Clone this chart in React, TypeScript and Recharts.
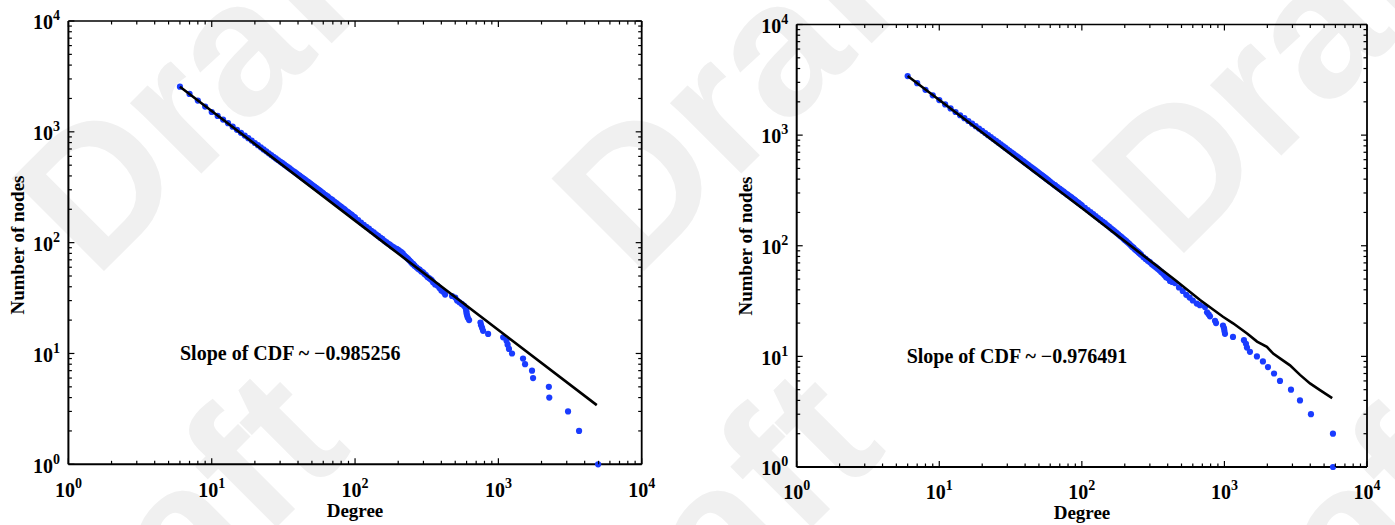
import React from 'react';
import { ScatterChart, Scatter, XAxis, YAxis, ReferenceLine } from 'recharts';

// ---------- data (left panel) ----------
const leftDegree = [6,7,8,9,10,11,12,13,14,15,16,17,18,19,20,21,22,23,24,25,26,27,28,29,30,32,34,36,38,40,42,44,46,48,50,52,54,56,58,60,65,70,75,80,85,90,95,100,110,120,130,140,150,160,170,180,190,200,210,220,230,240,250,260,275,290,305,320,335,350,362,375,388,400,412,425,475,500,515,535,555,575,590,595,598,600,605,612,625,750,757,770,782,848,1080,1140,1160,1186,1245,1486,1535,1717,1746,2250,2265,3063,3656,4965];
const leftNodes = [2553,2200,1915,1690,1510,1392,1290,1196,1112,1042,980,926,877,833,793,757,724,694,667,641,617,596,576,557,540,508,480,455,432,412,393,376,360,346,333,320,309,298,288,279,258,240,224,210,198,187,177,168,152,139,128,119,111,104,98,93,89,86,82,77,73,69,65,62,58,55,52,49,47,44,42,41,39,37,36,34,33,32,30,29,28,27,26,25,24,23,22,21,20,19,18,17,16,15,14,13,12,11,10,9,8,7,6,5,4,3,2,1];
const leftDegreeDense = [31,33,35,37,39,41,43,45,47,49,51,53,55,57,59,62,64,67,69,72,74,77,79,82,84,87,89,92,94,97,99,105,115,125,135,145,155,165,175,185,195,205,215,225,235,245,255,268,282,298,312,328,342];
const leftNodesDense = [524,494,467,443,422,402,384,368,353,339,326,314,303,293,283,270,263,250,244,233,227,218,213,205,201,193,189,183,179,173,170,160,145,134,124,115,108,101,96,91,88,84,80,75,71,67,64,60,57,54,51,48,46];
const leftFitDegree = [6, 100, 4860];
const leftFitNodes = [2553, 158, 3.42];

// ---------- data (right panel) ----------
const rightDegree = [6,7,8,9,10,11,12,13,14,15,16,17,18,19,20,21,22,23,24,25,26,27,28,29,30,32,34,36,38,40,42,44,46,48,50,52,54,56,58,60,65,70,75,80,85,90,95,100,110,120,130,140,150,160,170,180,190,200,210,220,230,240,250,260,280,300,320,340,360,380,400,415,430,450,480,510,540,570,600,640,673,731,755,775,792,859,873,977,993,1000,1009,1148,1371,1416,1439,1510,1690,1862,2020,2228,2453,2930,3388,4045,5770,5775];
const rightNodes = [3420,2950,2565,2290,2075,1895,1745,1618,1512,1422,1342,1270,1205,1145,1093,1044,1000,960,922,888,855,825,796,770,745,700,660,625,593,564,538,514,492,472,454,437,421,406,392,379,351,327,306,287,271,256,243,231,210,193,178,165,154,144,135,127,120,113,107,101,96,91,87,83,76,71,66,62,58,54,51,48,47,46,42,39,36,34,32,30,29,28,25,24,23,21,20,19,18,17,16,15,14,13,12,11,10,9,8,7,6,5,4,3,2,1];
const rightDegreeDense = [31,33,35,37,39,41,43,45,47,49,51,53,55,57,59,62,64,67,69,72,74,77,79,82,84,87,89,92,94,97,99,105,115,125,135,145,155,165,175,185,195,205,215,225,235,245,255,270,290,310,330,350,370,390];
const rightNodesDense = [722,680,642,609,578,551,526,503,482,463,445,429,413,399,385,367,356,340,331,318,310,298,291,281,275,265,260,251,246,238,233,220,201,185,171,160,149,139,131,123,116,110,104,98,93,89,85,79,73,68,64,60,56,52];
const rightFitDegree = [6, 100, 451, 675, 977, 1150, 1442, 1694, 1985, 2197, 2453, 2884, 3390, 3983, 4680, 5700];
const rightFitNodes = [3420, 219, 49, 32.3, 22.8, 19.9, 16.1, 13.6, 12.2, 10.6, 9.6, 8.3, 6.8, 5.7, 4.96, 4.2];

// ---------- axis ticks ----------
const logTicks = [1,2,3,4,5,6,7,8,9,10,20,30,40,50,60,70,80,90,100,200,300,400,500,600,700,800,900,1000,2000,3000,4000,5000,6000,7000,8000,9000,10000];
const majorTicks = [1, 10, 100, 1000, 10000];
const majorExponents = ['0', '1', '2', '3', '4'];

const xLabel = 'Degree';
const yLabel = 'Number of nodes';
const leftNote = 'Slope of CDF ~ \u22120.985256';
const rightNote = 'Slope of CDF ~ \u22120.976491';

const SERIF = '"Liberation Serif", "Times New Roman", Times, serif';
const BLUE = '#1a3cff';

const toPts = (xs: number[], ys: number[]) => xs.map((d, i) => ({ d, n: ys[i] }));

function XTick(props: any) {
  const { x, y, payload, plotH } = props;
  const v = payload.value;
  const mi = majorTicks.indexOf(v);
  const len = mi >= 0 ? 6 : 3.5;
  return (
    <g>
      <line x1={x} x2={x} y1={y} y2={y - len} stroke="#000" strokeWidth={1.2} />
      <line x1={x} x2={x} y1={y - plotH} y2={y - plotH + len} stroke="#000" strokeWidth={1.2} />
      {mi >= 0 && (
        <text x={x} y={y + 32.4} textAnchor="middle" fontFamily={SERIF} fontWeight="bold" fontSize={20} fill="#000">
          10<tspan dy={-9} fontSize={14}>{majorExponents[mi]}</tspan>
        </text>
      )}
    </g>
  );
}

function YTick(props: any) {
  const { x, y, payload, plotW } = props;
  const v = payload.value;
  const mi = majorTicks.indexOf(v);
  const len = mi >= 0 ? 6 : 3.5;
  return (
    <g>
      <line x1={x} x2={x + len} y1={y} y2={y} stroke="#000" strokeWidth={1.2} />
      <line x1={x + plotW} x2={x + plotW - len} y1={y} y2={y} stroke="#000" strokeWidth={1.2} />
      {mi >= 0 && (
        <text x={x - 8.4} y={y + 8.3} textAnchor="end" fontFamily={SERIF} fontWeight="bold" fontSize={20} fill="#000">
          10<tspan dy={-9} fontSize={14}>{majorExponents[mi]}</tspan>
        </text>
      )}
    </g>
  );
}

const Dot = (p: any) => <circle cx={p.cx} cy={p.cy} r={3.1} fill={BLUE} />;
const NoDot = () => <g />;

const XH = 40;
const YW = 50;

function Panel(props: { w: number; h: number; plot: { left: number; top: number; right: number; bottom: number }; points: any[]; fit: any[] }) {
  const { w, h, plot, points, fit } = props;
  const margin = { top: plot.top, left: plot.left - YW, right: plot.right, bottom: plot.bottom - XH };
  const plotW = w - plot.left - plot.right;
  const plotH = h - plot.top - plot.bottom;
  return (
    <ScatterChart width={w} height={h} margin={margin}>
      <XAxis
        type="number"
        dataKey="d"
        scale="log"
        domain={[1, 10000]}
        ticks={logTicks}
        interval={0}
        height={XH}
        tickSize={0}
        tickMargin={0}
        tickLine={false}
        axisLine={{ stroke: '#000', strokeWidth: 2 }}
        tick={(p: any) => <XTick {...p} plotH={plotH} />}
      />
      <YAxis
        type="number"
        dataKey="n"
        scale="log"
        domain={[1, 10000]}
        ticks={logTicks}
        interval={0}
        width={YW}
        tickSize={0}
        tickMargin={0}
        tickLine={false}
        axisLine={{ stroke: '#000', strokeWidth: 2 }}
        tick={(p: any) => <YTick {...p} plotW={plotW} />}
      />
      <ReferenceLine y={10000} stroke="#000" strokeWidth={1.5} />
      <ReferenceLine x={10000} stroke="#000" strokeWidth={1.8} />
      <Scatter data={points} shape={Dot} isAnimationActive={false} />
      <Scatter data={fit} shape={NoDot} line={{ stroke: '#000', strokeWidth: 2.6 }} isAnimationActive={false} />
    </ScatterChart>
  );
}

const WM = { fontSize: 190, fill: '#f0f0f0', angle: -45 };
const wmStarts = [
  [95, 280], [635, 280], [1175, 262],
  [40, 764], [575, 764], [1206, 764],
];

export default function App() {
  const leftPts = toPts(leftDegree, leftNodes).concat(toPts(leftDegreeDense, leftNodesDense));
  const leftFit = toPts(leftFitDegree, leftFitNodes);
  const rightPts = toPts(rightDegree, rightNodes).concat(toPts(rightDegreeDense, rightNodesDense));
  const rightFit = toPts(rightFitDegree, rightFitNodes);
  return (
    <div style={{ position: 'absolute', left: 0, top: 0, width: 1395, height: 525, background: '#fff', overflow: 'hidden' }}>
      <svg width={1395} height={525} style={{ position: 'absolute', left: 0, top: 0 }}>
        {wmStarts.map(([x, y], i) => (
          <text key={i} x={x} y={y} fontFamily='"Liberation Sans", Arial, sans-serif' fontWeight="bold" fontSize={WM.fontSize} fill={WM.fill} transform={`rotate(${WM.angle} ${x} ${y})`}>
            Draft
          </text>
        ))}
      </svg>
      <div style={{ position: 'absolute', left: 0, top: 0 }}>
        <Panel w={697} h={525} plot={{ top: 21, left: 68.4, right: 55.3, bottom: 60.7 }} points={leftPts} fit={leftFit} />
      </div>
      <div style={{ position: 'absolute', left: 697, top: 0 }}>
        <Panel w={698} h={525} plot={{ top: 24.5, left: 99.7, right: 28, bottom: 58 }} points={rightPts} fit={rightFit} />
      </div>
      <svg width={1395} height={525} style={{ position: 'absolute', left: 0, top: 0, pointerEvents: 'none' }}>
        <g fontFamily={SERIF} fontWeight="bold" fill="#000">
          <text x={180} y={360} fontSize={20}>{leftNote}</text>
          <text x={906.7} y={363.3} fontSize={20}>{rightNote}</text>
          <text x={355} y={517} fontSize={19} textAnchor="middle">{xLabel}</text>
          <text x={1082} y={519} fontSize={19} textAnchor="middle">{xLabel}</text>
          <text x={24} y={245} fontSize={19} textAnchor="middle" transform="rotate(-90 24 245)">{yLabel}</text>
          <text x={752} y={246} fontSize={19} textAnchor="middle" transform="rotate(-90 752 246)">{yLabel}</text>
        </g>
      </svg>
    </div>
  );
}
